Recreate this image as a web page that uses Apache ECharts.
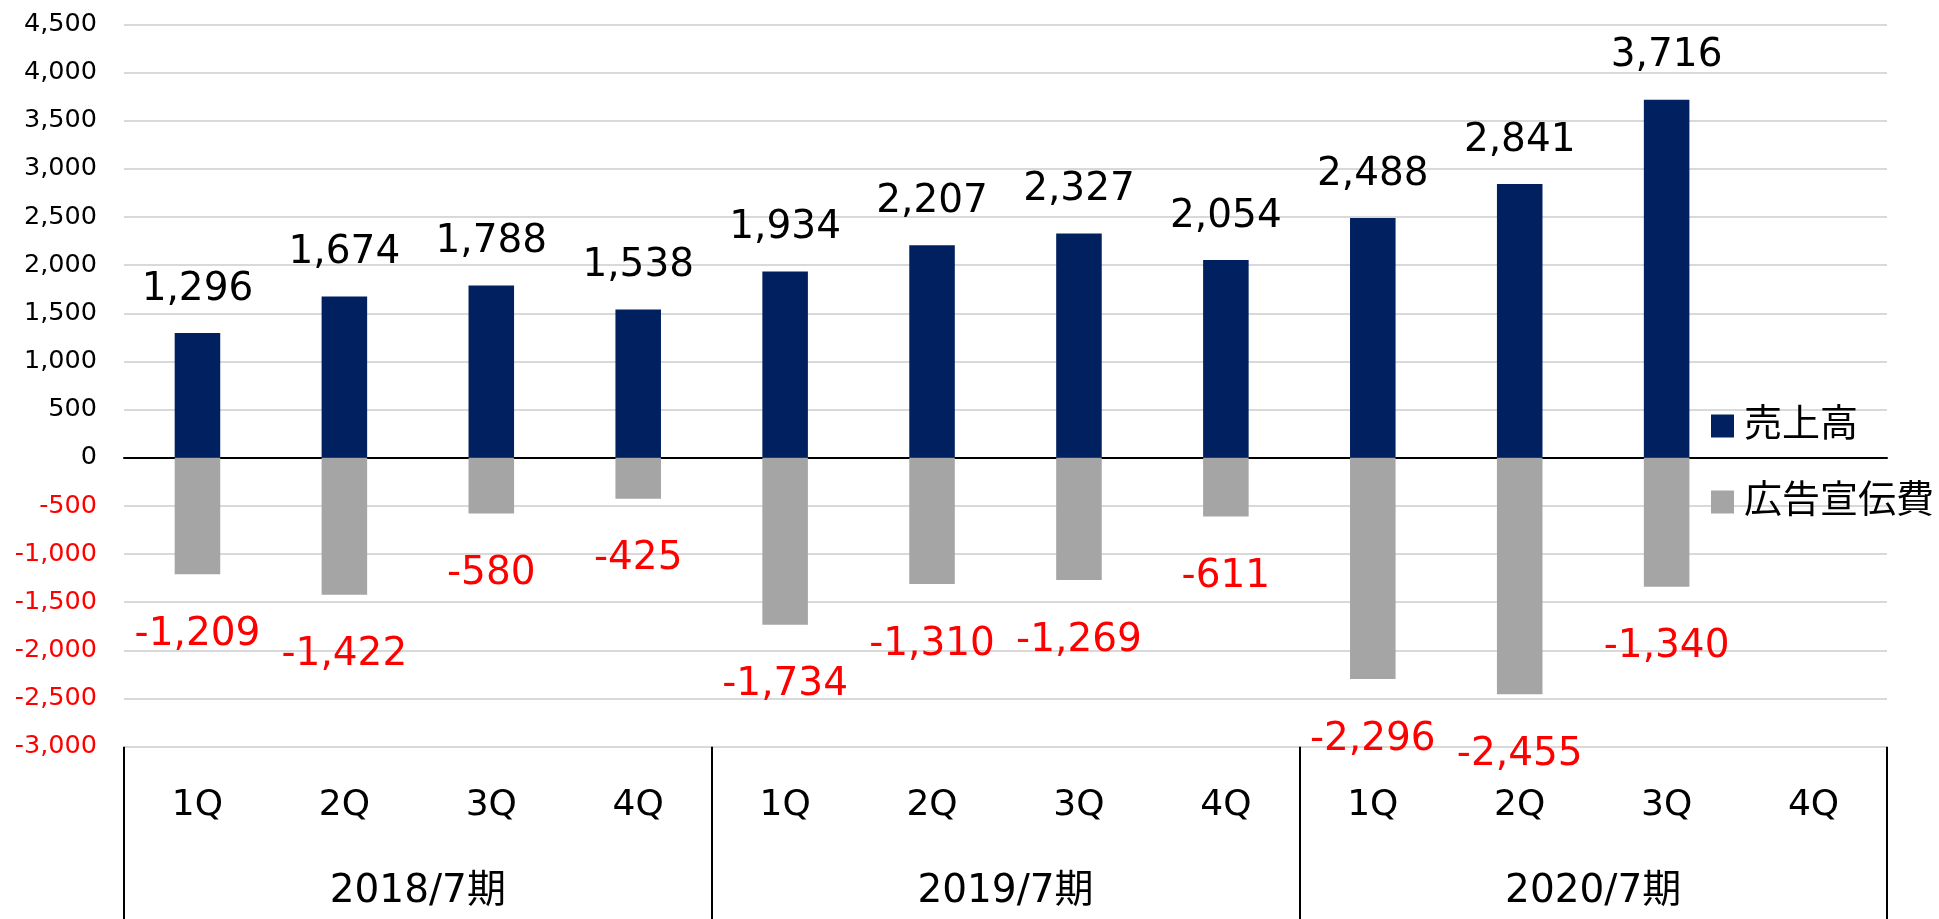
<!DOCTYPE html>
<html>
<head>
<meta charset="utf-8">
<script src="https://cdn.jsdelivr.net/npm/echarts@6/dist/echarts.min.js"></script>
<style>html,body{margin:0;padding:0;background:#fff;}#c{width:1939px;height:919px;}</style>
</head>
<body>
<div id="c"></div>
<script>
const quarters = ['1Q','2Q','3Q','4Q','1Q','2Q','3Q','4Q','1Q','2Q','3Q','4Q'];
const years = ['2018/7期','2019/7期','2020/7期'];
const sales = [1296, 1674, 1788, 1538, 1934, 2207, 2327, 2054, 2488, 2841, 3716, null];
const adCost = [-1209, -1422, -580, -425, -1734, -1310, -1269, -611, -2296, -2455, -1340, null];
const yTicks = {min: -3000, max: 4500, interval: 500};

const FONT = "'DejaVu Sans', 'Noto Sans CJK JP', sans-serif";
const fmt = v => Number(v).toLocaleString('en-US');

const chart = echarts.init(document.getElementById('c'));
chart.setOption({
  animation: false,
  textStyle: {fontFamily: FONT},
  grid: {left: 124, right: 52, top: 24.3, bottom: 172.3, containLabel: false},
  legend: {
    data: ['売上高', '広告宣伝費'],
    orient: 'vertical',
    left: 1706, top: 402,
    itemWidth: 23, itemHeight: 23, itemGap: 38,
    icon: 'rect',
    textStyle: {fontSize: 38, color: '#000', fontFamily: FONT, padding: [0,0,0,5]}
  },
  xAxis: [
    {
      type: 'category', data: quarters, position: 'bottom',
      axisLine: {show: true, onZero: true, lineStyle: {color: '#000', width: 2}},
      axisTick: {show: false}, axisLabel: {show: false}, splitLine: {show: false}
    },
    {
      type: 'category', data: quarters, position: 'bottom',
      axisLine: {show: false, onZero: false}, axisTick: {show: false},
      axisLabel: {fontSize: 36, color: '#000', margin: 41, fontFamily: FONT, interval: 0},
      splitLine: {show: false}
    },
    {
      type: 'category', data: years, position: 'bottom',
      axisLine: {show: false, onZero: false},
      axisTick: {show: true, length: 175, interval: 0, lineStyle: {color: '#000', width: 2}},
      axisLabel: {fontSize: 39, color: '#000', margin: 126, fontFamily: FONT, interval: 0},
      splitLine: {show: false}
    }
  ],
  yAxis: {
    type: 'value', min: yTicks.min, max: yTicks.max, interval: yTicks.interval,
    axisLine: {show: false}, axisTick: {show: false},
    splitLine: {lineStyle: {color: '#D9D9D9', width: 2}},
    axisLabel: {
      margin: 27,
      formatter: v => (v < 0 ? '{n|' : '{p|') + fmt(v) + '}',
      rich: {
        n: {color: '#FF0000', fontSize: 25.5, fontFamily: FONT},
        p: {color: '#000000', fontSize: 25.5, fontFamily: FONT}
      }
    }
  },
  series: [
    {
      name: '売上高', type: 'bar', xAxisIndex: 0, data: sales,
      barWidth: '31%', barGap: '-100%',
      itemStyle: {color: '#002060'},
      label: {show: true, position: 'top', distance: 24, fontSize: 39, color: '#000', fontFamily: FONT,
        formatter: p => fmt(p.value)}
    },
    {
      name: '広告宣伝費', type: 'bar', xAxisIndex: 0, data: adCost,
      barWidth: '31%', barGap: '-100%',
      itemStyle: {color: '#A5A5A5'},
      label: {show: true, position: 'bottom', distance: 41, fontSize: 39, color: '#FF0000', fontFamily: FONT,
        formatter: p => fmt(p.value)}
    }
  ]
});
</script>
</body>
</html>
